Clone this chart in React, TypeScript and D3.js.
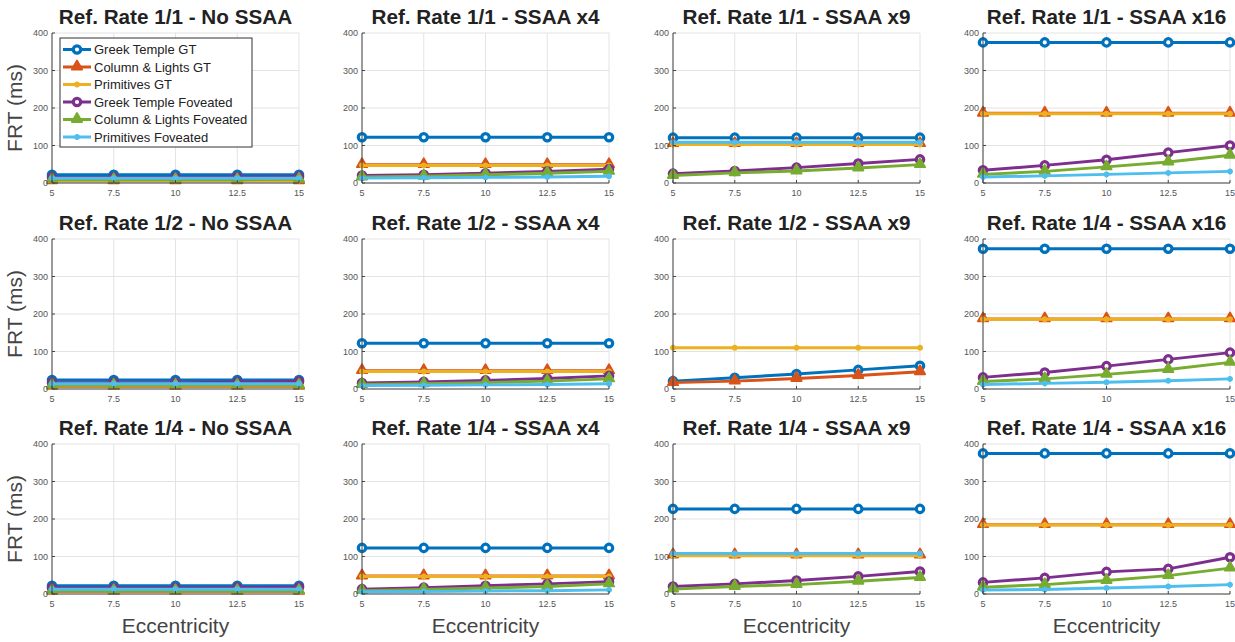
import React from "react";
import * as d3 from "d3";

const seriesNames = [
  "Greek Temple GT",
  "Column & Lights GT",
  "Primitives GT",
  "Greek Temple Foveated",
  "Column & Lights Foveated",
  "Primitives Foveated",
];
const seriesColors = ["#0072BD", "#D95319", "#EDB120", "#7E2F8E", "#77AC30", "#4DBEEE"];
const seriesMarkers = ["circle", "triangle", "star", "circle", "triangle", "star"];

const eccentricity = [5, 7.5, 10, 12.5, 15];
const xTicksFull = [5, 7.5, 10, 12.5, 15];
const xTicksCoarse = [5, 10, 15];
const yTicks = [0, 100, 200, 300, 400];

const panelTitles = [
  ["Ref. Rate 1/1 - No SSAA", "Ref. Rate 1/1 - SSAA x4", "Ref. Rate 1/1 - SSAA x9", "Ref. Rate 1/1 - SSAA x16"],
  ["Ref. Rate 1/2 - No SSAA", "Ref. Rate 1/2 - SSAA x4", "Ref. Rate 1/2 - SSAA x9", "Ref. Rate 1/4 - SSAA x16"],
  ["Ref. Rate 1/4 - No SSAA", "Ref. Rate 1/4 - SSAA x4", "Ref. Rate 1/4 - SSAA x9", "Ref. Rate 1/4 - SSAA x16"],
];

type S = (number[] | null)[];

// Row 1: Ref. Rate 1/1
const r1NoSSAA: S = [
  [22, 22, 22, 22, 22],
  [6, 6, 6, 6, 6],
  [7, 7, 7, 7, 7],
  [15, 15, 15, 16, 17],
  [9, 9, 9, 9, 10],
  [13, 13, 13, 13, 13],
];
const r1SSAA4: S = [
  [122, 122, 122, 122, 122],
  [49, 49, 49, 49, 49],
  [47, 47, 47, 47, 47],
  [20, 22, 26, 31, 37],
  [16, 18, 22, 26, 31],
  [13, 14, 15, 16, 18],
];
const r1SSAA9: S = [
  [121, 121, 121, 121, 121],
  [105, 105, 105, 105, 105],
  [103, 103, 103, 103, 103],
  [25, 32, 41, 52, 63],
  [20, 27, 32, 40, 49],
  [109, 109, 109, 109, 109],
];
const r1SSAA16: S = [
  [375, 375, 375, 375, 375],
  [186, 186, 186, 186, 186],
  [185, 185, 185, 185, 185],
  [34, 47, 62, 81, 100],
  [23, 31, 43, 56, 74],
  [16, 19, 23, 27, 31],
];
// Row 2: Ref. Rate 1/2
const r2NoSSAA: S = [
  [24, 24, 24, 24, 24],
  [7, 7, 7, 7, 7],
  [8, 8, 8, 8, 8],
  [17, 17, 17, 18, 20],
  [10, 10, 10, 10, 10],
  [14, 14, 14, 14, 14],
];
const r2SSAA4: S = [
  [122, 122, 122, 122, 122],
  [49, 49, 49, 49, 49],
  [47, 47, 47, 47, 47],
  [16, 19, 23, 28, 35],
  [12, 14, 17, 21, 27],
  [9, 10, 11, 12, 14],
];
const r2SSAA9: S = [
  [21, 30, 40, 51, 62],
  [17, 21, 28, 36, 46],
  [110, 110, 110, 110, 110],
  null,
  null,
  null,
];
const r2SSAA16: S = [
  [374, 374, 374, 374, 374],
  [187, 187, 187, 187, 187],
  [186, 186, 186, 186, 186],
  [31, 44, 61, 79, 97],
  [20, 27, 39, 52, 71],
  [12, 15, 18, 22, 27],
];
// Row 3: Ref. Rate 1/4
const r3NoSSAA: S = [
  [22, 22, 22, 22, 22],
  [7, 7, 7, 7, 7],
  [8, 8, 8, 8, 8],
  [16, 16, 16, 17, 18],
  [9, 9, 9, 9, 9],
  [13, 13, 13, 13, 13],
];
const r3SSAA4: S = [
  [123, 123, 123, 123, 123],
  [48, 48, 48, 48, 48],
  [47, 47, 47, 47, 47],
  [13, 17, 22, 27, 33],
  [9, 12, 16, 20, 27],
  [6, 7, 8, 9, 11],
];
const r3SSAA9: S = [
  [227, 227, 227, 227, 227],
  [104, 104, 104, 104, 104],
  [102, 102, 102, 102, 102],
  [20, 27, 36, 47, 60],
  [13, 20, 25, 34, 44],
  [108, 108, 108, 108, 108],
];
const r3SSAA16: S = [
  [375, 375, 375, 375, 375],
  [185, 185, 185, 185, 185],
  [184, 184, 184, 184, 184],
  [31, 43, 59, 67, 98],
  [18, 25, 36, 49, 69],
  [11, 12, 16, 20, 25],
];

const panelData: S[][] = [
  [r1NoSSAA, r1SSAA4, r1SSAA9, r1SSAA16],
  [r2NoSSAA, r2SSAA4, r2SSAA9, r2SSAA16],
  [r3NoSSAA, r3SSAA4, r3SSAA9, r3SSAA16],
];

const FONT = "'Liberation Sans', Arial, Helvetica, sans-serif";
const colLefts = [52, 362, 673, 983];
const rowTops = [33, 239, 444];
const PW = 247;
const PH = 150;

function Marker({ type, x, y, color }: { type: string; x: number; y: number; color: string }) {
  if (type === "circle") {
    return <circle cx={x} cy={y} r={3.7} fill="white" stroke={color} strokeWidth={3.2} />;
  }
  if (type === "triangle") {
    const p = d3.symbol().type(d3.symbolTriangle).size(46)();
    return (
      <path d={p || ""} transform={`translate(${x},${y - 0.5})`} fill={color} stroke={color} strokeWidth={1.8} strokeLinejoin="round" />
    );
  }
  const s = 3;
  const d = `M${x - s},${y}L${x + s},${y}M${x},${y - s}L${x},${y + s}M${x - s * 0.7},${y - s * 0.7}L${x + s * 0.7},${y + s * 0.7}M${x - s * 0.7},${y + s * 0.7}L${x + s * 0.7},${y - s * 0.7}`;
  return <path d={d} stroke={color} strokeWidth={1.8} fill="none" />;
}

function Panel({ row, col }: { row: number; col: number }) {
  const left = colLefts[col];
  const top = rowTops[row];
  const x = d3.scaleLinear().domain([5, 15]).range([left, left + PW]);
  const y = d3.scaleLinear().domain([0, 400]).range([top + PH, top]);
  const xt = row === 1 && col === 3 ? xTicksCoarse : xTicksFull;
  const data = panelData[row][col];
  const line = d3
    .line<number>()
    .x((_, i) => x(eccentricity[i]))
    .y((v) => y(v));
  return (
    <g>
      <rect x={left} y={top} width={PW} height={PH} fill="white" />
      {xt.map((t) => (
        <line key={"gx" + t} x1={x(t)} x2={x(t)} y1={top} y2={top + PH} stroke="#e3e3e3" strokeWidth={1} />
      ))}
      {yTicks.map((t) => (
        <line key={"gy" + t} x1={left} x2={left + PW} y1={y(t)} y2={y(t)} stroke="#e3e3e3" strokeWidth={1} />
      ))}
      {data.map((s, si) =>
        s ? (
          <g key={"s" + si}>
            <path d={line(s) || ""} fill="none" stroke={seriesColors[si]} strokeWidth={3} strokeLinejoin="round" />
            {s.map((v, i) => (
              <Marker key={i} type={seriesMarkers[si]} x={x(eccentricity[i])} y={y(v)} color={seriesColors[si]} />
            ))}
          </g>
        ) : null
      )}
      <line x1={left} x2={left} y1={top} y2={top + PH} stroke="#444" strokeWidth={1} />
      <line x1={left} x2={left + PW} y1={top + PH} y2={top + PH} stroke="#444" strokeWidth={1} />
      {yTicks.map((t) => (
        <g key={"yt" + t}>
          <line x1={left} x2={left + 3} y1={y(t)} y2={y(t)} stroke="#444" strokeWidth={1} />
          <text x={left - 4} y={y(t)} textAnchor="end" dominantBaseline="central" fontSize={9} fill="#555" fontFamily={FONT}>
            {t}
          </text>
        </g>
      ))}
      {xt.map((t) => (
        <g key={"xt" + t}>
          <line x1={x(t)} x2={x(t)} y1={top + PH} y2={top + PH - 3} stroke="#444" strokeWidth={1} />
          <text x={x(t)} y={top + PH + 13} textAnchor="middle" fontSize={9} fill="#555" fontFamily={FONT}>
            {t}
          </text>
        </g>
      ))}
      <text x={left + PW / 2} y={top - 9.5} textAnchor="middle" fontSize={20.7} fontWeight="bold" fill="#222" fontFamily={FONT}>
        {panelTitles[row][col]}
      </text>
      {col === 0 ? (
        <text
          transform={`translate(${21.5},${top + PH / 2}) rotate(-90)`}
          textAnchor="middle"
          fontSize={21}
          fill="#444"
          fontFamily={FONT}
        >
          FRT (ms)
        </text>
      ) : null}
      {row === 2 ? (
        <text x={left + PW / 2} y={633} textAnchor="middle" fontSize={21} fill="#444" fontFamily={FONT}>
          Eccentricity
        </text>
      ) : null}
    </g>
  );
}

function Legend() {
  const lx = 60;
  const ly = 38;
  const w = 192;
  const h = 109;
  return (
    <g>
      <rect x={lx} y={ly} width={w} height={h} fill="white" stroke="#333" strokeWidth={1} />
      {seriesNames.map((n, i) => {
        const cy = 49.5 + i * 17.5;
        return (
          <g key={n}>
            <line x1={63} x2={91} y1={cy} y2={cy} stroke={seriesColors[i]} strokeWidth={3} />
            <Marker type={seriesMarkers[i]} x={77} y={cy} color={seriesColors[i]} />
            <text x={94} y={cy} dominantBaseline="central" fontSize={13} fill="#222" fontFamily={FONT}>
              {n}
            </text>
          </g>
        );
      })}
    </g>
  );
}

export default function App() {
  const cells: React.ReactNode[] = [];
  for (let r = 0; r < 3; r++) for (let c = 0; c < 4; c++) cells.push(<Panel key={r + "-" + c} row={r} col={c} />);
  return (
    <svg width={1235} height={642} style={{ position: "absolute", left: 0, top: 0, background: "white" }}>
      <rect width={1235} height={642} fill="white" />
      {cells}
      <Legend />
    </svg>
  );
}
